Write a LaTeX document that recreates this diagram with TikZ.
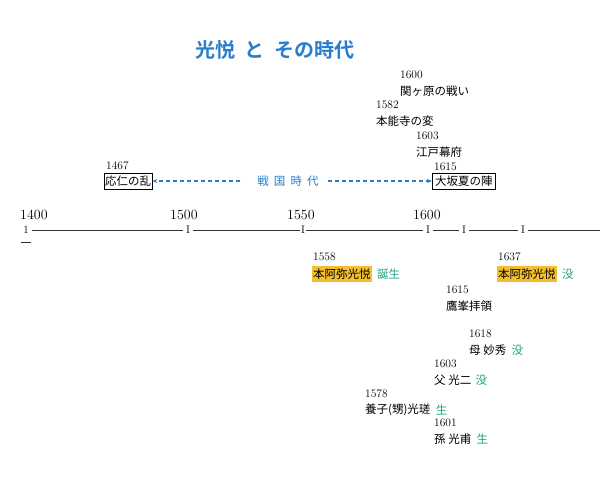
\documentclass[tikz,border=0pt]{standalone}
\usepackage{fontspec}
\newfontfamily\jp{Noto Sans CJK JP}
\newfontfamily\jpb{Noto Sans CJK JP Bold}
\usetikzlibrary{arrows.meta,positioning}
\definecolor{tblue}{RGB}{40,125,205}
\definecolor{tgreen}{RGB}{30,160,130}
\definecolor{hl}{RGB}{245,190,45}
\begin{document}
\begin{tikzpicture}[x=1pt,y=-1pt,
  yr/.style={anchor=west,inner sep=0pt,font=\fontsize{11.5}{12}\selectfont},
  jt/.style={anchor=west,inner sep=0pt,font=\jp\fontsize{11.5}{12}\selectfont},
  ev/.style={anchor=west,draw,inner xsep=1pt,inner ysep=2.5pt,font=\jp\fontsize{11.5}{12}\selectfont},
  hi/.style={anchor=west,fill=hl,inner xsep=1pt,inner ysep=2.5pt,font=\jp\fontsize{11.5}{12}\selectfont},
  gr/.style={inner sep=0pt,text=tgreen,font=\jp\fontsize{11.5}{12}\selectfont},
  tick/.style={inner sep=0pt,font=\fontsize{11}{11}\selectfont},
  big/.style={anchor=south west,inner sep=0pt,font=\fontsize{14}{14}\selectfont},
  tl/.style={line width=0.6pt,black!80},
  da/.style={draw=tblue,dash pattern=on 4pt off 3pt,line width=1.2pt,-{Stealth[length=5pt,width=4pt,fill=tblue]}}]
\useasboundingbox (0,0) rectangle (615,479);
\node[font=\jpb\fontsize{20}{21}\selectfont,text=tblue] (title) at (275,50) {光悦\ \ と\ \ その時代};
% upper events
\node[yr] (y1600) at (400,75) {1600};
\node[jt] (sekiga) at (400,91) {関ヶ原の戦い};
\node[yr] (y1582) at (376,105) {1582};
\node[jt] (honno) at (376,121) {本能寺の変};
\node[yr] (y1603a) at (416,136) {1603};
\node[jt] (edo) at (416,152) {江戸幕府};
\node[yr] (y1615a) at (434,167) {1615};
\node[ev] (osaka) at (432,181) {\,大坂夏の陣\,};
\node[yr] (y1467) at (106,166) {1467};
\node[ev] (onin) at (104,181) {応仁の乱};
\node[jt,anchor=center,text=tblue] (sengoku) at (288,181) {戦\ \ 国\ \ 時\ \ 代};
\draw[da] (240,181) -- (onin.east);
\draw[da] (328,181) -- (osaka.west);
% timeline
\node[big] (l1400) at (20,220) {1400};
\node[big] (l1500) at (170,220) {1500};
\node[big] (l1550) at (287,220) {1550};
\node[big] (l1600) at (413,220) {1600};
\node[tick] (t0) at (26,230) {1};
\node[tick] (t1) at (188,230) {I};
\node[tick] (t2) at (303,230) {I};
\node[tick] (t3) at (428,230) {I};
\node[tick] (t4) at (464,230) {I};
\node[tick] (t5) at (523,230) {I};
\coordinate (tend) at (600,230);
\draw[tl] ([xshift=3pt]t0.east) -- ([xshift=-3pt]t1.west);
\draw[tl] ([xshift=3pt]t1.east) -- ([xshift=-1pt]t2.west);
\draw[tl] ([xshift=1pt]t2.east) -- ([xshift=-3pt]t3.west);
\draw[tl] ([xshift=3pt]t3.east) -- ([xshift=-3pt]t4.west);
\draw[tl] ([xshift=3pt]t4.east) -- ([xshift=-3pt]t5.west);
\draw[tl] ([xshift=3pt]t5.east) -- (tend);
\draw[tl] (21,242) -- (31,242);
% lower events
\node[yr] (y1558) at (313,257) {1558};
\node[hi] (born) at (312,274) {本阿弥光悦};
\node[gr,right=5pt of born] (bornt) {誕生};
\node[yr] (y1637) at (498,257) {1637};
\node[hi] (died) at (497,274) {本阿弥光悦};
\node[gr,right=5pt of died] (diedt) {没};
\node[yr] (y1615b) at (446,290) {1615};
\node[jt] (taka) at (446,306) {鷹峯拝領};
\node[yr] (y1618) at (469,334) {1618};
\node[jt] (haha) at (469,350) {母\ 妙秀};
\node[gr,right=5pt of haha] (hahat) {没};
\node[yr] (y1603b) at (434,364) {1603};
\node[jt] (chichi) at (434,380) {父\ 光二};
\node[gr,right=4pt of chichi] (chichit) {没};
\node[yr] (y1578) at (365,394) {1578};
\node[jt] (yoshi) at (365,410) {養子(甥)光瑳};
\node[gr,right=5pt of yoshi] (yoshit) {生};
\node[yr] (y1601) at (434,423) {1601};
\node[jt] (mago) at (434,439) {孫\ 光甫};
\node[gr,right=5pt of mago] (magot) {生};
\end{tikzpicture}
\end{document}
